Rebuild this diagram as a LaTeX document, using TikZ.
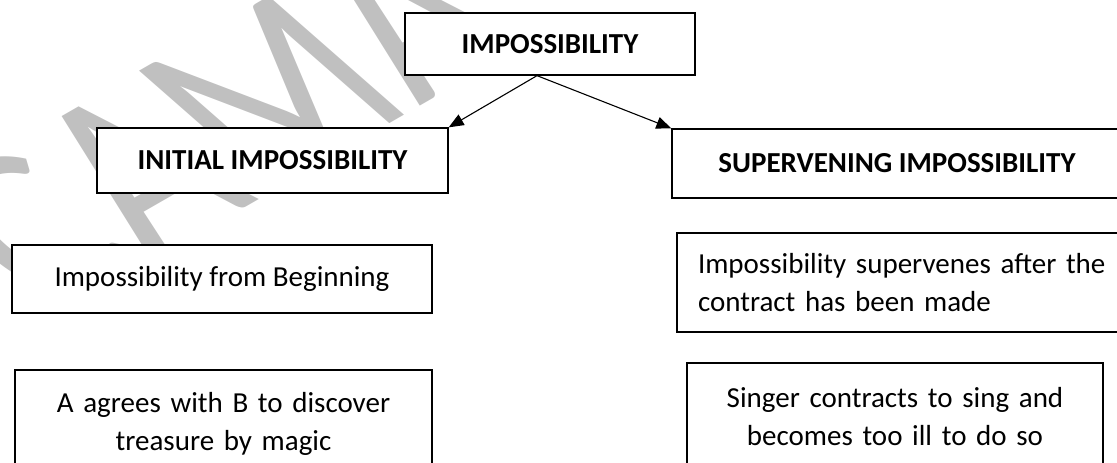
\documentclass[tikz,border=0pt]{standalone}
\usepackage{fontspec}
\setmainfont{Carlito}
\usetikzlibrary{arrows.meta,calc}
\definecolor{wmgray}{RGB}{192,192,192}
\begin{document}
\begin{tikzpicture}[x=1pt,y=-1pt,
  box/.style={draw=black, line width=1.3pt, fill=white, inner sep=0pt,
    font=\fontsize{29}{38}\selectfont},
  head/.style={box, font=\fontsize{29}{38}\selectfont\bfseries},
  link/.style={line width=1.1pt, -{Triangle[length=15pt,width=12pt]}}]
\useasboundingbox (0,0) rectangle (1117,463);
\clip (0,0) rectangle (1117,463);

% faint watermark behind everything
\begin{scope}[yscale=0.71]
  \node[wmgray, rotate=39, xscale=0.72, transform shape, inner sep=0pt,
    font=\fontsize{335}{335}\selectfont] (mark) at (222,172) {CAMA};
\end{scope}

% headings
\node[head, minimum width=290, minimum height=62] (imp) at (550,44) {IMPOSSIBILITY};
\node[head, minimum width=351, minimum height=65] (init) at (272.5,160.5) {INITIAL IMPOSSIBILITY};
\node[head, minimum width=450, minimum height=69] (sup) at (897,163.5) {SUPERVENING IMPOSSIBILITY};

% explanations and examples
\node[box, minimum width=420, minimum height=68] (begin) at (222,279) {Impossibility from Beginning};
\node[box, text width=417, align=center, minimum height=108] (treasure) at (223.5,424)
  {A agrees with B to discover\\treasure by magic};
\node[box, text width=420, inner xsep=21pt, align=left, minimum height=99] (after) at (908,282.5)
  {Impossibility supervenes after the\\contract has been made};
\node[box, text width=416, align=center, minimum height=108] (singer) at (895,417)
  {Singer contracts to sing and\\becomes too ill to do so};

% branches
\draw[link] ([xshift=-13pt]imp.south) -- (init.north east);
\draw[link] ([xshift=-13pt]imp.south) -- (sup.north west);
\end{tikzpicture}
\end{document}
